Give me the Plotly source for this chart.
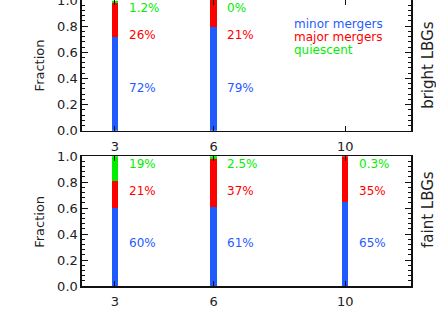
import plotly.graph_objects as go

# ---- data ----
z_bright = [3, 6]
bright_minor = [0.72, 0.79]
bright_major = [0.26, 0.21]
bright_quiescent = [0.012, 0.0]
bright_minor_lbl = ["72%", "79%"]
bright_major_lbl = ["26%", "21%"]
bright_quiescent_lbl = ["1.2%", "0%"]

z_faint = [3, 6, 10]
faint_minor = [0.60, 0.61, 0.65]
faint_major = [0.21, 0.37, 0.35]
faint_quiescent = [0.19, 0.025, 0.003]
faint_minor_lbl = ["60%", "61%", "65%"]
faint_major_lbl = ["21%", "37%", "35%"]
faint_quiescent_lbl = ["19%", "2.5%", "0.3%"]

x_ticks = [3, 6, 10]
y_ticks = [0.0, 0.2, 0.4, 0.6, 0.8, 1.0]
legend_names = ["minor mergers", "major mergers", "quiescent"]

BLUE = "#1f5bff"
RED = "#ff0000"
GREEN = "#00ee00"
FONT = "DejaVu Sans"
TXT = "#222222"

fig = go.Figure()

def add_panel(z, minor, major, quiet, xa, ya):
    for vals, col in [(minor, BLUE), (major, RED), (quiet, GREEN)]:
        fig.add_trace(go.Bar(x=z, y=vals, marker=dict(color=col, line=dict(width=0)),
                             width=0.2, xaxis=xa, yaxis=ya, showlegend=False,
                             hoverinfo="skip"))

add_panel(z_bright, bright_minor, bright_major, bright_quiescent, "x", "y")
add_panel(z_faint, faint_minor, faint_major, faint_quiescent, "x2", "y2")

ann = []
def add_labels(z, lbls_list, xref, yref):
    for lbls, col, yy in zip(lbls_list, [BLUE, RED, GREEN], [0.33, 0.73, 0.94]):
        for zi, t in zip(z, lbls):
            ann.append(dict(x=zi + 0.36, y=yy, xref=xref, yref=yref, text=t,
                            showarrow=False, xanchor="left", yanchor="middle",
                            font=dict(family=FONT, size=12, color=col)))

add_labels(z_bright, [bright_minor_lbl, bright_major_lbl, bright_quiescent_lbl], "x", "y")
add_labels(z_faint, [faint_minor_lbl, faint_major_lbl, faint_quiescent_lbl], "x2", "y2")

for name, col, yy in zip(legend_names, [BLUE, RED, GREEN], [0.82, 0.718, 0.616]):
    ann.append(dict(x=8.37, y=yy, xref="x", yref="y", text=name, showarrow=False,
                    xanchor="left", yanchor="middle",
                    font=dict(family=FONT, size=12, color=col)))

# axis titles
for yy in [0.771, 0.224]:
    ann.append(dict(x=-0.128, y=yy, xref="paper", yref="paper", text="Fraction",
                    textangle=-90, showarrow=False, xanchor="center", yanchor="middle",
                    font=dict(family=FONT, size=13, color=TXT)))
for t, yy in [("bright LBGs", 0.7725), ("faint LBGs", 0.2685)]:
    ann.append(dict(x=1.051, y=yy, xref="paper", yref="paper", text=t,
                    textangle=-90, showarrow=False, xanchor="center", yanchor="middle",
                    font=dict(family=FONT, size=15, color=TXT)))

xcommon = dict(range=[2, 12], tickvals=x_ticks, ticks="inside", ticklen=5,
               tickwidth=1, tickcolor="#111", showline=True, linewidth=1.6,
               linecolor="#111", mirror="ticks", showgrid=False, zeroline=False,
               automargin=False, ticklabelstandoff=3,
               tickfont=dict(family=FONT, size=13, color=TXT))
ycommon = dict(range=[0, 1], tickvals=y_ticks, tickformat=".1f", ticks="inside",
               ticklen=6, tickwidth=1, tickcolor="#111", showline=True, linewidth=1.6,
               linecolor="#111", mirror="ticks", showgrid=False, zeroline=False,
               automargin=False, ticklabeloverflow="allow",
               minor=dict(dtick=0.04, ticks="inside", ticklen=3, tickwidth=1,
                          tickcolor="#111", showgrid=False),
               tickfont=dict(family=FONT, size=13, color=TXT))

fig.update_layout(
    width=436, height=312,
    margin=dict(l=82, r=25, t=0, b=26, autoexpand=False),
    paper_bgcolor="white", plot_bgcolor="white",
    barmode="stack", bargap=0,
    xaxis=dict(xcommon, anchor="y"),
    yaxis=dict(ycommon, domain=[0.543, 1.0], anchor="x"),
    xaxis2=dict(xcommon, anchor="y2"),
    yaxis2=dict(ycommon, domain=[0.0, 0.454], anchor="x2"),
    annotations=ann,
    showlegend=False,
)

fig.write_html("out.html", config={"displayModeBar": False, "staticPlot": True},
               post_script="document.body.style.margin='0';document.body.style.overflow='hidden';")
